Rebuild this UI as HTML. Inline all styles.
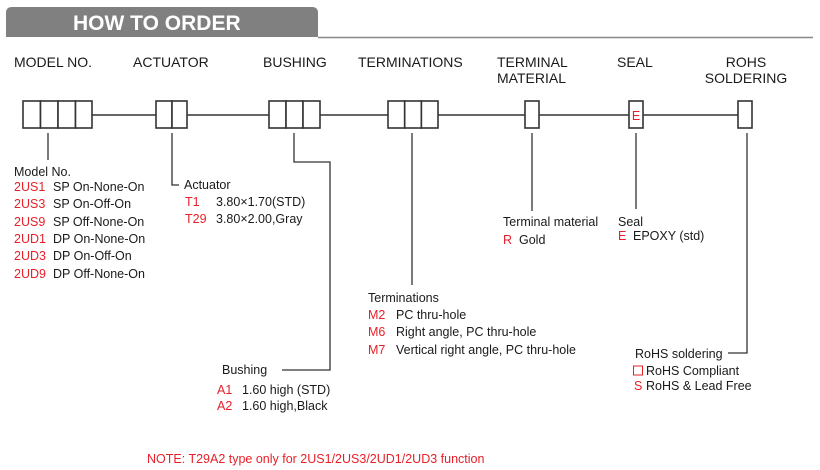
<!DOCTYPE html>
<html><head><meta charset="utf-8"><style>
html,body{margin:0;padding:0;background:#fff;width:820px;height:470px;overflow:hidden}
svg{display:block}
text{font-family:"Liberation Sans",Arial,sans-serif;fill:#1a1a1a}
.h{font-size:14px}
.b{font-size:12.5px}
.r{fill:#e8202a}
</style></head><body>
<svg width="820" height="470" viewBox="0 0 820 470" xmlns="http://www.w3.org/2000/svg">
<path d="M6 37 V13 Q6 7 12 7 H312 Q318 7 318 13 V37 Z" fill="#808080"/>
<line x1="318" y1="37.5" x2="813" y2="37.5" stroke="#888" stroke-width="1.5"/>
<text x="73" y="30" style="font-size:21px;font-weight:bold;fill:#fff">HOW TO ORDER</text>

<text class="h" x="14" y="67">MODEL NO.</text>
<text class="h" x="133" y="67">ACTUATOR</text>
<text class="h" x="263" y="67">BUSHING</text>
<text class="h" x="358" y="67">TERMINATIONS</text>
<text class="h" x="497" y="67">TERMINAL</text>
<text class="h" x="497" y="83">MATERIAL</text>
<text class="h" x="617" y="67">SEAL</text>
<text class="h" x="746" y="67" text-anchor="middle">ROHS</text>
<text class="h" x="746" y="83" text-anchor="middle">SOLDERING</text>

<g stroke="#333" stroke-width="1.6" fill="#fff">
<line x1="92" y1="115" x2="738" y2="115"/>
<rect x="23" y="101" width="17.5" height="27"/><rect x="40.5" y="101" width="17.5" height="27"/><rect x="58" y="101" width="17.5" height="27"/><rect x="75.5" y="101" width="16.5" height="27"/>
<rect x="156" y="101" width="16" height="27"/><rect x="172" y="101" width="15" height="27"/>
<rect x="269" y="101" width="17" height="27"/><rect x="286" y="101" width="17" height="27"/><rect x="303" y="101" width="17" height="27"/>
<rect x="388" y="101" width="16.7" height="27"/><rect x="404.7" y="101" width="16.7" height="27"/><rect x="421.4" y="101" width="16.6" height="27"/>
<rect x="525" y="101" width="14" height="27"/>
<rect x="629" y="101" width="14" height="27"/>
<rect x="738" y="101" width="14" height="27"/>
</g>
<text x="636" y="120" text-anchor="middle" class="b r">E</text>

<g stroke="#333" stroke-width="1.3" fill="none">
<line x1="48" y1="133" x2="48" y2="160"/>
<polyline points="172,133 172,185 179,185"/>
<polyline points="294,133 294,162 330,162 330,370 282,370"/>
<line x1="412" y1="133" x2="412" y2="285"/>
<line x1="532" y1="133" x2="532" y2="211"/>
<line x1="636" y1="133" x2="636" y2="209"/>
<polyline points="747,133 747,353 728,353"/>
</g>

<text class="b" x="14" y="176">Model No.</text>
<text class="b r" x="14" y="191">2US1</text><text class="b" x="53" y="191">SP On-None-On</text>
<text class="b r" x="14" y="208">2US3</text><text class="b" x="53" y="208">SP On-Off-On</text>
<text class="b r" x="14" y="226">2US9</text><text class="b" x="53" y="226">SP Off-None-On</text>
<text class="b r" x="14" y="243">2UD1</text><text class="b" x="53" y="243">DP On-None-On</text>
<text class="b r" x="14" y="260">2UD3</text><text class="b" x="53" y="260">DP On-Off-On</text>
<text class="b r" x="14" y="278">2UD9</text><text class="b" x="53" y="278">DP Off-None-On</text>

<text class="b" x="184" y="189">Actuator</text>
<text class="b r" x="185" y="206">T1</text><text class="b" x="216" y="206">3.80×1.70(STD)</text>
<text class="b r" x="185" y="223">T29</text><text class="b" x="216" y="223">3.80×2.00,Gray</text>

<text class="b" x="222" y="374">Bushing</text>
<text class="b r" x="217" y="394">A1</text><text class="b" x="242" y="394">1.60 high (STD)</text>
<text class="b r" x="217" y="410">A2</text><text class="b" x="242" y="410">1.60 high,Black</text>

<text class="b" x="368" y="302">Terminations</text>
<text class="b r" x="368" y="319">M2</text><text class="b" x="396" y="319">PC thru-hole</text>
<text class="b r" x="368" y="336">M6</text><text class="b" x="396" y="336">Right angle, PC thru-hole</text>
<text class="b r" x="368" y="354">M7</text><text class="b" x="396" y="354">Vertical right angle, PC thru-hole</text>

<text class="b" x="503" y="226">Terminal material</text>
<text class="b r" x="503" y="244">R</text><text class="b" x="519" y="244">Gold</text>

<text class="b" x="618" y="226">Seal</text>
<text class="b r" x="618" y="240">E</text><text class="b" x="633" y="240">EPOXY (std)</text>

<text class="b" x="635" y="358">RoHS soldering</text>
<rect x="633.5" y="366" width="9" height="9" fill="none" stroke="#e8202a" stroke-width="1"/>
<text class="b" x="646" y="375">RoHS Compliant</text>
<text class="b r" x="634" y="390">S</text><text class="b" x="646" y="390">RoHS &amp; Lead Free</text>

<text class="b r" x="147" y="463">NOTE: T29A2 type only for 2US1/2US3/2UD1/2UD3 function</text>
</svg>
</body></html>
